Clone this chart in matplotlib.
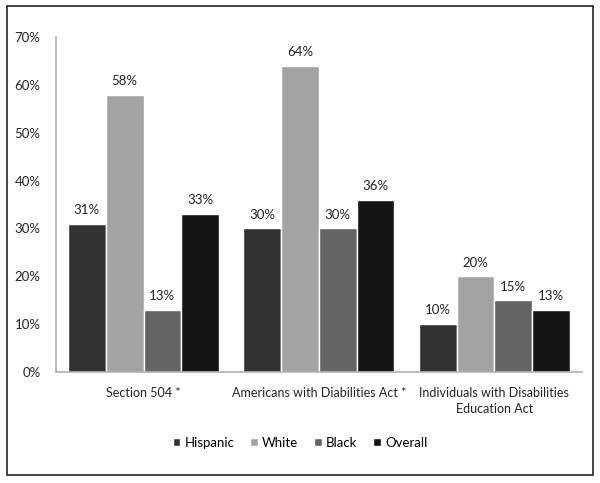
import matplotlib.pyplot as plt
import matplotlib.patches as patches
import numpy as np

plt.rcParams['font.family'] = ['Lato', 'DejaVu Sans']

categories = ['Section 504 *', 'Americans with Diabilities Act *',
              'Individuals with Disabilities\nEducation Act']
series = ['Hispanic', 'White', 'Black', 'Overall']
hispanic = [31, 30, 10]
white = [58, 64, 20]
black = [13, 30, 15]
overall = [33, 36, 13]
colors = ['#333333', '#a3a3a3', '#646464', '#151515']

fig = plt.figure(figsize=(6, 4.83), dpi=100)
ax = fig.add_axes([0.093, 0.23, 0.877, 0.693])

x = np.arange(len(categories))
w = 0.215
for i, (name, vals) in enumerate(zip(series, [hispanic, white, black, overall])):
    pos = x + (i - 1.5) * w
    bars = ax.bar(pos, vals, w, color=colors[i], edgecolor='white', linewidth=1, label=name)
    for b, v in zip(bars, vals):
        ax.text(b.get_x() + b.get_width() / 2, v + 1.6, f'{v}%', ha='center', va='bottom',
                fontsize=9.5, color='#222222')

ax.set_ylim(0, 70)
ax.set_xlim(-0.5, 2.5)
ax.set_yticks(range(0, 71, 10))
ax.set_yticklabels([f'{t}%' for t in range(0, 71, 10)], fontsize=9.5)
ax.set_xticks(x)
ax.set_xticklabels(categories, linespacing=1.4, fontsize=9)
ax.tick_params(length=0, colors='#222222')
ax.tick_params(axis='y', pad=11)
ax.tick_params(axis='x', pad=11)
for s in ['top', 'right']:
    ax.spines[s].set_visible(False)
for s in ['left', 'bottom']:
    ax.spines[s].set_color('#b0b0b0')
    ax.spines[s].set_linewidth(1.2)

fig.legend(loc='center', bbox_to_anchor=(0.5, 0.083), ncol=4, frameon=False, fontsize=9.5,
           handlelength=0.6, handleheight=0.6, handletextpad=0.3, columnspacing=1.2)

fig.patches.append(patches.Rectangle((7 / 600, 8 / 483), 586 / 600, 469 / 483,
                                     transform=fig.transFigure, fill=False,
                                     edgecolor='#222222', linewidth=1.2))

fig.savefig('out.png', dpi=100)
